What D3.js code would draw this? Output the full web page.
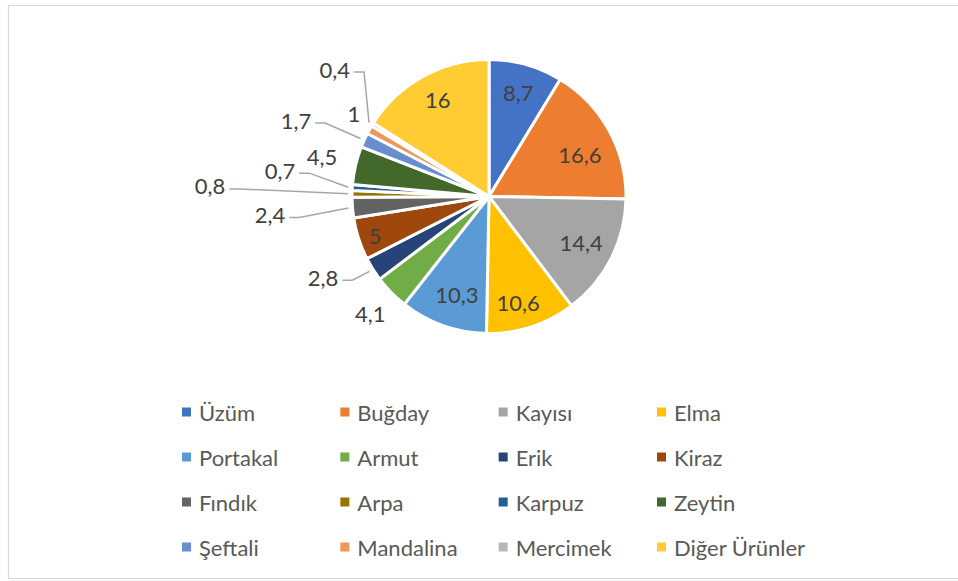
<!DOCTYPE html>
<html>
<head>
<meta charset="utf-8">
<script src="https://cdn.jsdelivr.net/npm/d3@7"></script>
<style>
  html, body { margin: 0; padding: 0; background: #fff; }
  svg { display: block; }
  text { font-family: Lato, "Noto Sans", sans-serif; }
</style>
</head>
<body>
<svg id="chart" width="958" height="581"></svg>
<script>
// Crop shares (%)
const categories = ["Üzüm", "Buğday", "Kayısı", "Elma", "Portakal", "Armut", "Erik", "Kiraz",
                    "Fındık", "Arpa", "Karpuz", "Zeytin", "Şeftali", "Mandalina", "Mercimek", "Diğer Ürünler"];
const values = [8.7, 16.6, 14.4, 10.6, 10.3, 4.1, 2.8, 5, 2.4, 0.8, 0.7, 4.5, 1.7, 1, 0.4, 16];
const valueLabels = ["8,7", "16,6", "14,4", "10,6", "10,3", "4,1", "2,8", "5", "2,4", "0,8", "0,7", "4,5", "1,7", "1", "0,4", "16"];
const colors = ["#4472C4", "#ED7D31", "#A5A5A5", "#FFC000", "#5B9BD5", "#70AD47", "#264478", "#9E480E",
                "#636363", "#997300", "#255E91", "#43682B", "#698ED0", "#F1975A", "#B7B7B7", "#FFCD33"];

// Label placement: radius as a fraction of the pie radius, angle shift (deg) from the slice middle,
// and whether a leader line connects the label to its slice.
const labelPlacement = [
  { rf: 0.79, da: 0 },   { rf: 0.73, da: 4 },   { rf: 0.75, da: -0.7 }, { rf: 0.80, da: 2.6 },
  { rf: 0.75, da: -1.4 },{ rf: 1.215, da: 0 },  { rf: 1.347, da: 6.1, leader: true }, { rf: 0.88, da: -1.1 },
  { rf: 1.604, da: 0, leader: true }, { rf: 2.038, da: 1.1, leader: true }, { rf: 1.538, da: 3.4, leader: true },
  { rf: 1.254, da: 0.5 }, { rf: 1.515, da: -2.7, leader: true }, { rf: 1.158, da: 2.5 },
  { rf: 1.46, da: 7.9, leader: true }, { rf: 0.80, da: 0.9 }
];

const svg = d3.select("#chart");
const W = 958, H = 581;

// Chart area frame
svg.append("rect")
  .attr("x", 8.5).attr("y", 5.5)
  .attr("width", W).attr("height", 573)
  .attr("fill", "#fff").attr("stroke", "#D9D9D9").attr("stroke-width", 1.2);

const cx = 489, cy = 196.5, R = 137;
const color = d3.scaleOrdinal().domain(categories).range(colors);

const data = categories.map((c, i) => ({ name: c, value: values[i], label: valueLabels[i], place: labelPlacement[i] }));

const pie = d3.pie().value(d => d.value).sort(null);
const arcs = pie(data);
const arc = d3.arc().innerRadius(0).outerRadius(R);

const g = svg.append("g").attr("transform", `translate(${cx},${cy})`);

g.selectAll("path.slice")
  .data(arcs)
  .join("path")
  .attr("class", "slice")
  .attr("d", arc)
  .attr("fill", d => color(d.data.name))
  .attr("stroke", "#fff")
  .attr("stroke-width", 3)
  .attr("stroke-linejoin", "round");

const polar = (angleRad, rad) => [Math.sin(angleRad) * rad, -Math.cos(angleRad) * rad];
const deg = Math.PI / 180;
const labelSize = 22, legendSize = 22;

const labels = g.selectAll("g.lbl")
  .data(arcs)
  .join("g")
  .attr("class", "lbl");

labels.each(function (d) {
  const mid = (d.startAngle + d.endAngle) / 2;
  const p = d.data.place;
  const [x, y] = polar(mid + p.da * deg, R * p.rf);
  const sel = d3.select(this);
  const t = sel.append("text")
    .attr("x", x).attr("y", y)
    .attr("text-anchor", "middle")
    .attr("dominant-baseline", "central")
    .attr("font-size", labelSize)
    .attr("fill", "#404040")
    .text(d.data.label);
  if (p.leader) {
    const w = t.node().getComputedTextLength();
    const x0 = x + w / 2 + 4, ly = y + 3;
    const [ex, ey] = polar(mid, R + 4);
    sel.insert("path", "text")
      .attr("d", d3.line()([[x0, ly], [x0 + 10, ly], [ex, ey]]))
      .attr("fill", "none")
      .attr("stroke", "#A6A6A6")
      .attr("stroke-width", 1.5);
  }
});

// Legend: four columns
const colX = d3.scaleLinear().domain([0, 3]).range([182, 657]);
const rowY = d3.scaleLinear().domain([0, 3]).range([412, 547]);
const legend = svg.append("g");
const items = legend.selectAll("g.item")
  .data(data)
  .join("g")
  .attr("class", "item")
  .attr("transform", (d, i) => `translate(${colX(i % 4)},${rowY(Math.floor(i / 4))})`);
items.append("rect")
  .attr("x", 0).attr("y", -4.5)
  .attr("width", 9).attr("height", 9)
  .attr("fill", d => color(d.name));
items.append("text")
  .attr("x", 17).attr("y", 0)
  .attr("dominant-baseline", "central")
  .attr("font-size", legendSize)
  .attr("fill", "#595959")
  .text(d => d.name);
</script>
</body>
</html>
